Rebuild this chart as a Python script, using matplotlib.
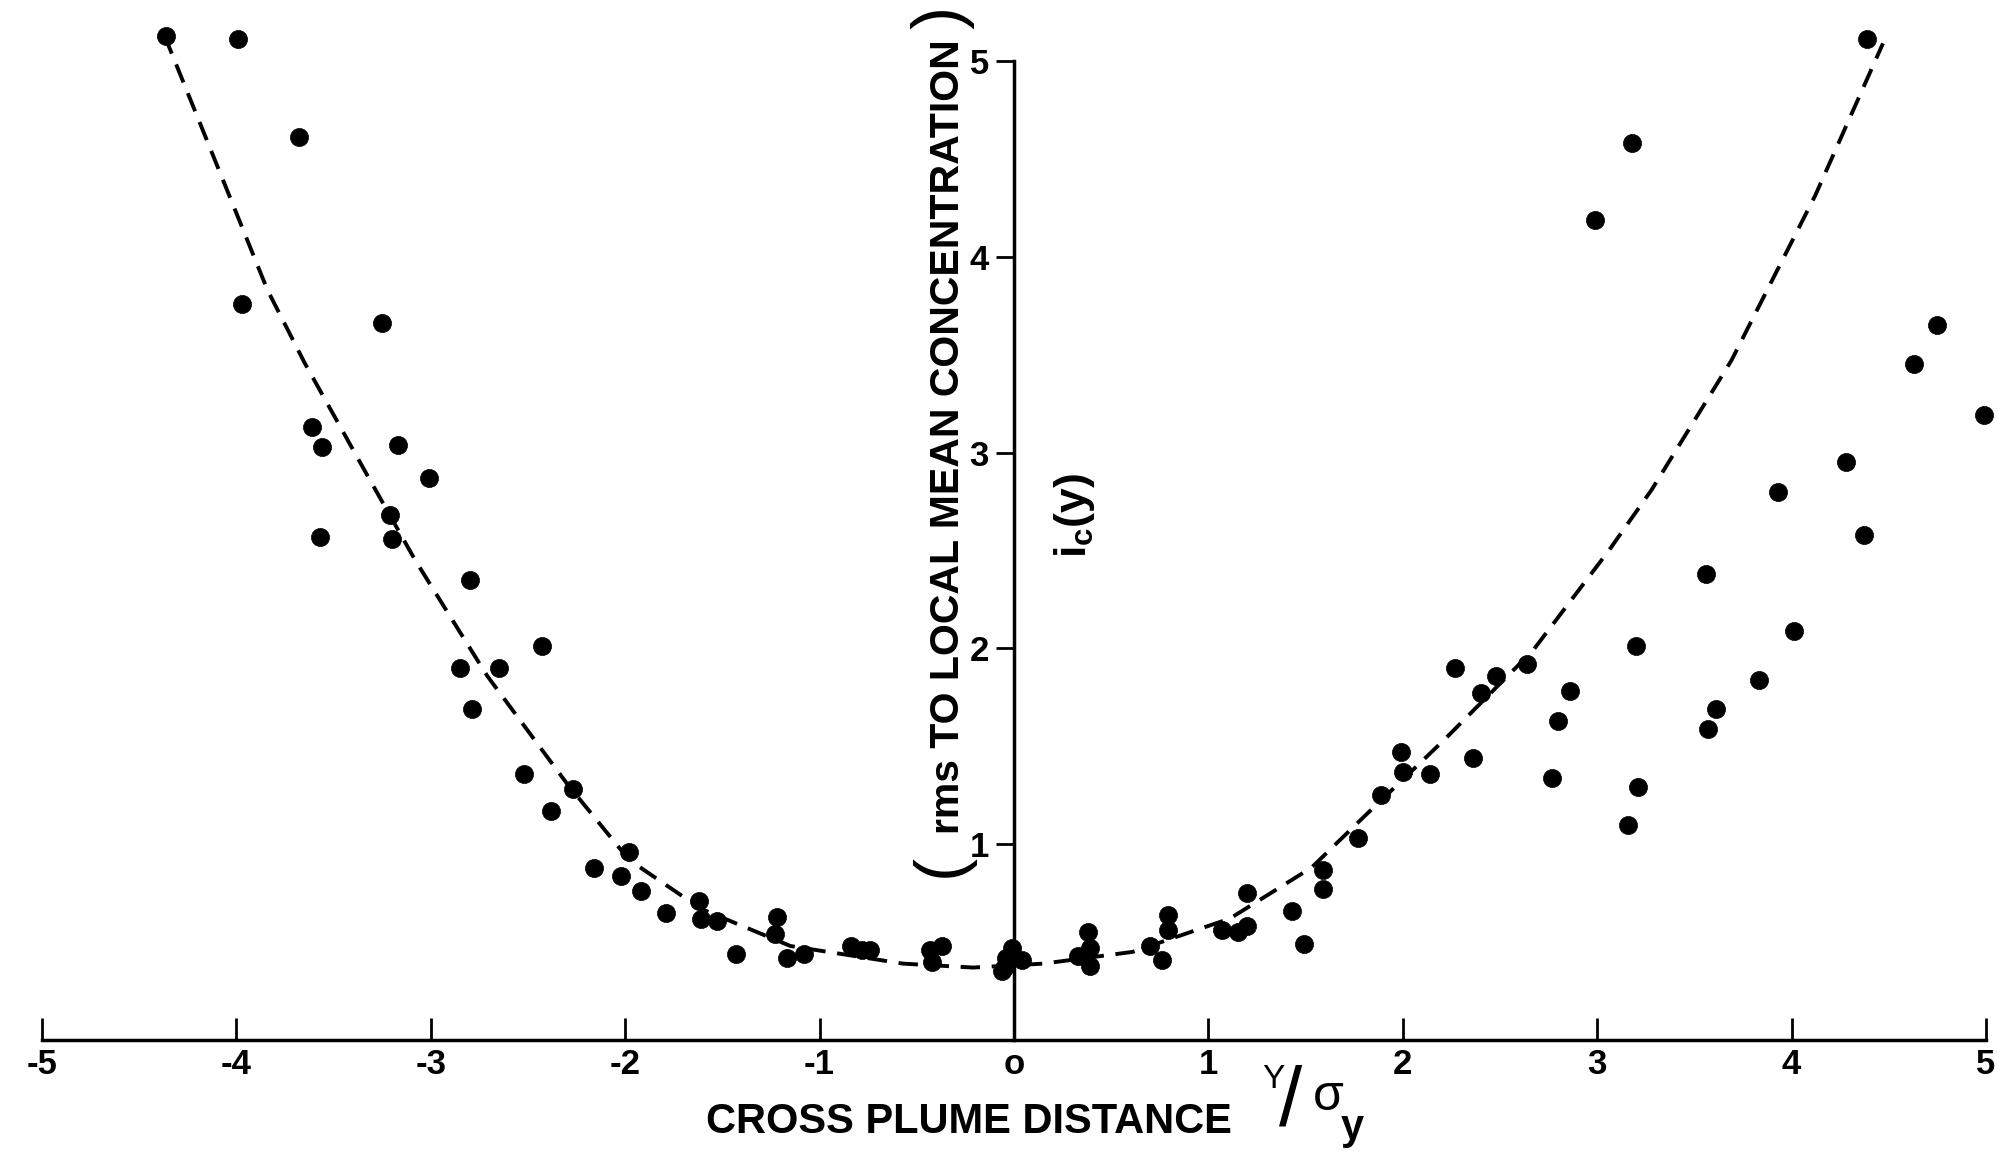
import matplotlib
matplotlib.use("Agg")
import matplotlib.pyplot as plt

# font: bold sans like the original typesetting
plt.rcParams['font.family'] = ['Liberation Sans', 'DejaVu Sans']
plt.rcParams['font.weight'] = 'bold'
plt.rcParams['mathtext.fontset'] = 'custom'
plt.rcParams['mathtext.rm'] = 'Liberation Sans:bold'
plt.rcParams['mathtext.it'] = 'Liberation Sans:bold'
plt.rcParams['mathtext.bf'] = 'Liberation Sans:bold'

# measured points, cross plume distance y/sigma_y vs i_c(y)
pts_x = [-4.36, -3.99, -3.68, -3.97, -3.25, -3.61, -3.56, -3.17, -3.01, -3.21,
         -3.57, -3.20, -2.80, -2.43, -2.85, -2.65, -2.79, -2.52, -2.27, -2.38,
         -1.98, -2.16, -2.02, -1.92, -1.79, -1.62, -1.61, -1.53, -1.43, -1.22,
         -1.23, -1.17, -1.08, -0.84, -0.78, -0.74, -0.43, -0.37, -0.42,
         -0.01, -0.05, 0.04, -0.04, -0.06,
         0.38, 0.39, 0.33, 0.39, 0.70, 0.79, 0.79, 0.76, 1.07, 1.15,
         1.20, 1.20, 1.43, 1.49, 1.59, 1.59, 1.77, 1.89, 1.99, 2.00,
         2.14, 2.36, 2.27, 2.40, 2.48, 2.64, 2.80, 2.86, 2.77, 3.20,
         3.21, 3.16, 3.56, 3.61, 3.57, 3.83, 4.01, 4.37, 3.93, 4.28,
         4.99, 4.63, 4.75, 2.99, 3.18, 4.39]
pts_y = [5.13, 5.11, 4.61, 3.76, 3.66, 3.13, 3.03, 3.04, 2.87, 2.68,
         2.57, 2.56, 2.35, 2.01, 1.90, 1.90, 1.69, 1.36, 1.28, 1.17,
         0.96, 0.88, 0.84, 0.76, 0.65, 0.71, 0.62, 0.61, 0.44, 0.63,
         0.54, 0.42, 0.44, 0.48, 0.46, 0.46, 0.46, 0.48, 0.40,
         0.47, 0.37, 0.41, 0.42, 0.35,
         0.55, 0.47, 0.43, 0.38, 0.48, 0.64, 0.56, 0.41, 0.56, 0.55,
         0.58, 0.75, 0.66, 0.49, 0.87, 0.77, 1.03, 1.25, 1.47, 1.37,
         1.36, 1.44, 1.90, 1.77, 1.86, 1.92, 1.63, 1.78, 1.34, 2.01,
         1.29, 1.10, 2.38, 1.69, 1.59, 1.84, 2.09, 2.58, 2.80, 2.95,
         3.19, 3.45, 3.65, 4.19, 4.58, 5.11]

# dashed curve
curve_x = [-4.37, -4.06, -3.84, -3.65, -3.33, -3.08, -2.98, -2.71, -2.30, -1.98,
           -1.61, -1.15, -0.57, -0.21, 0.15, 0.61, 1.11, 1.53, 1.80, 2.21,
           2.67, 3.06, 3.28, 3.69, 4.12, 4.47]
curve_y = [5.13, 4.37, 3.83, 3.46, 2.89, 2.45, 2.29, 1.86, 1.31, 0.92,
           0.67, 0.48, 0.39, 0.37, 0.39, 0.45, 0.62, 0.88, 1.14, 1.53,
           1.99, 2.50, 2.81, 3.47, 4.31, 5.09]

x_ticks = [-5, -4, -3, -2, -1, 0, 1, 2, 3, 4, 5]
x_labels = ['-5', '-4', '-3', '-2', '-1', 'o', '1', '2', '3', '4', '5']
y_ticks = [1, 2, 3, 4, 5]
y_labels = ['1', '2', '3', '4', '5']

fig = plt.figure(figsize=(19.99, 11.51), dpi=100)
ax = fig.add_axes([42 / 1999, 111 / 1151, 1944 / 1999, 979 / 1151])
ax.set_xlim(-5, 5)
ax.set_ylim(0, 5)

# axes lines
ax.spines['top'].set_visible(False)
ax.spines['right'].set_visible(False)
ax.spines['left'].set_position(('data', 0))
ax.spines['bottom'].set_linewidth(2.5)
ax.spines['left'].set_linewidth(2.5)

ax.set_xticks(x_ticks)
ax.set_xticklabels(x_labels)
ax.set_yticks(y_ticks)
ax.set_yticklabels(y_labels)
ax.tick_params(axis='x', direction='in', length=16, width=2, pad=6, labelsize=25)
ax.tick_params(axis='y', direction='out', length=13, width=2, pad=5, labelsize=25)

ax.plot(curve_x, curve_y, color='k', lw=2.8, ls=(0, (5, 3)), clip_on=False, zorder=2)
ax.scatter(pts_x, pts_y, s=170, c='k', edgecolors='k', linewidths=0.5, clip_on=False, zorder=3)

# y label with big parens
ax.text(-0.34, 3.08, 'rms TO LOCAL MEAN CONCENTRATION', rotation=90, fontsize=29.5,
        ha='center', va='center')
ax.text(-0.37, 0.89, '(', rotation=90, fontsize=50, fontweight='normal', ha='center', va='center')
ax.text(-0.37, 5.22, ')', rotation=90, fontsize=50, fontweight='normal', ha='center', va='center')
ax.text(0.31, 2.68, r'$i_c(y)$', rotation=90, fontsize=32, ha='center', va='center')

# x label
fig.text(969 / 1999, 1 - 1122 / 1151, 'CROSS PLUME DISTANCE', fontsize=30,
         ha='center', va='center')
# Y / sigma_y pieces
fig.text(1273 / 1999, 1 - 1080 / 1151, 'Y', fontsize=24, fontweight='normal',
         ha='center', va='center')
fig.text(1291 / 1999, 1 - 1104 / 1151, '/', fontsize=60, fontweight='normal',
         ha='center', va='center')
fig.text(1328 / 1999, 1 - 1097 / 1151, 'σ', fontsize=36, fontweight='normal',
         ha='center', va='center')
fig.text(1352 / 1999, 1 - 1128 / 1151, 'y', fontsize=30, ha='center', va='center')

plt.savefig('out.png', dpi=100)
